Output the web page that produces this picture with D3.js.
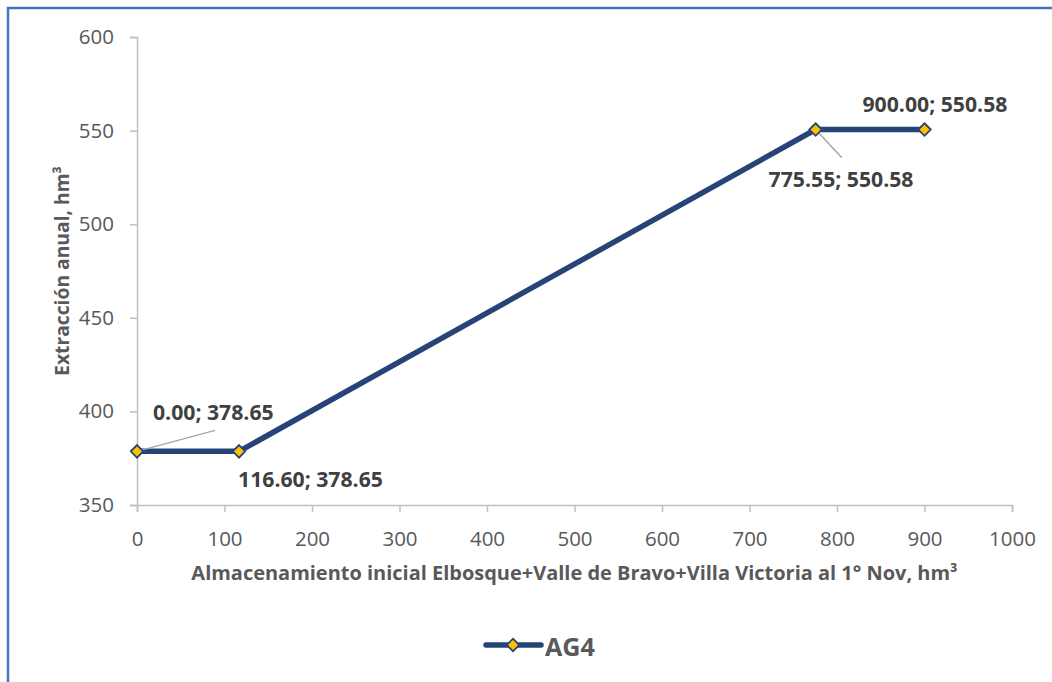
<!DOCTYPE html>
<html>
<head>
<meta charset="utf-8">
<script src="https://cdn.jsdelivr.net/npm/d3@7"></script>
<style>
  html, body { margin: 0; padding: 0; background: #fff; }
  svg { display: block; }
  text { font-family: "Open Sans", Carlito, Calibri, sans-serif; }
</style>
</head>
<body>
<svg id="chart" width="1052" height="682"></svg>
<script>
// Series AG4: initial storage (hm³) vs annual extraction (hm³)
const storage = [0.00, 116.60, 775.55, 900.00];
const extraction = [378.65, 378.65, 550.58, 550.58];
const seriesName = "AG4";

const xTicks = [0, 100, 200, 300, 400, 500, 600, 700, 800, 900, 1000];
const yTicks = [350, 400, 450, 500, 550, 600];

const xTitle = "Almacenamiento inicial Elbosque+Valle de Bravo+Villa Victoria al 1° Nov, hm³";
const yTitle = "Extracción anual, hm³";

// label placement relative to each point (dx, dy, leader line end)
const labelPos = [
  { dx: 16, dy: -31, leader: [78, -21] },
  { dx: -1, dy: 36, leader: null },
  { dx: -47, dy: 57, leader: [26, 28] },
  { dx: -62, dy: -18, leader: null }
];

const svg = d3.select("#chart");
const W = 1052, H = 682;

// shrink or grow a text's font so it spans the given width
function fitWidth(sel, width) {
  sel.each(function () {
    const t = d3.select(this);
    const w = this.getComputedTextLength();
    if (w > 0) t.attr("font-size", (+t.attr("font-size")) * width / w);
  });
}

// chart frame
svg.append("path")
  .attr("d", `M8,${H} L8,8 L${W},8`)
  .attr("fill", "none")
  .attr("stroke", "#4472C4")
  .attr("stroke-width", 2.5);

const x = d3.scaleLinear().domain([0, 1000]).range([137, 1012]);
const y = d3.scaleLinear().domain([350, 600]).range([505, 37]);

const axisColor = "#BFBFBF";
const tickColor = "#595959";

// x axis
const gx = svg.append("g").attr("transform", `translate(0,${y(350)})`)
  .call(d3.axisBottom(x).tickValues(xTicks).tickSize(7).tickSizeOuter(7).tickPadding(19).tickFormat(d3.format("d")));
// y axis
const gy = svg.append("g").attr("transform", `translate(${x(0)},0)`)
  .call(d3.axisLeft(y).tickValues(yTicks).tickSize(7).tickSizeOuter(7).tickPadding(16).tickFormat(d3.format("d")));

[gx, gy].forEach(g => {
  g.select(".domain").attr("stroke", axisColor).attr("stroke-width", 1.5);
  g.selectAll(".tick line").attr("stroke", axisColor).attr("stroke-width", 1.5);
  g.selectAll(".tick text").attr("fill", tickColor).attr("font-size", 20.5)
    .attr("font-family", "'Open Sans', Carlito, Calibri, sans-serif");
});

// axis titles
svg.append("text")
  .attr("x", (x(0) + x(1000)) / 2)
  .attr("y", 580)
  .attr("text-anchor", "middle")
  .attr("font-weight", "bold")
  .attr("font-size", 17)
  .attr("fill", tickColor)
  .text(xTitle)
  .call(fitWidth, 767);

svg.append("text")
  .attr("transform", `translate(69,${(y(350) + y(600)) / 2}) rotate(-90)`)
  .attr("text-anchor", "middle")
  .attr("font-weight", "bold")
  .attr("font-size", 17)
  .attr("fill", tickColor)
  .text(yTitle)
  .call(fitWidth, 210);

const pts = storage.map((s, i) => ({ s, e: extraction[i] }));

// series line
svg.append("path")
  .datum(pts)
  .attr("fill", "none")
  .attr("stroke", "#264478")
  .attr("stroke-width", 5.5)
  .attr("stroke-linejoin", "round")
  .attr("d", d3.line().x(d => x(d.s)).y(d => y(d.e)));

const diamond = d3.symbol().type(d3.symbolDiamond2).size(100);

// leader lines
pts.forEach((d, i) => {
  const lp = labelPos[i];
  if (lp.leader) {
    svg.append("line")
      .attr("x1", x(d.s)).attr("y1", y(d.e))
      .attr("x2", x(d.s) + lp.leader[0]).attr("y2", y(d.e) + lp.leader[1])
      .attr("stroke", "#A6A6A6").attr("stroke-width", 1.5);
  }
});

// markers
svg.selectAll(".marker").data(pts).enter().append("path")
  .attr("class", "marker")
  .attr("transform", d => `translate(${x(d.s)},${y(d.e)})`)
  .attr("d", diamond)
  .attr("fill", "#FFC000")
  .attr("stroke", "#264478")
  .attr("stroke-width", 1.8);

// data labels
const fmt = d3.format(".2f");
const labels = svg.selectAll(".dlabel").data(pts).enter().append("text")
  .attr("class", "dlabel")
  .attr("x", (d, i) => x(d.s) + labelPos[i].dx)
  .attr("y", (d, i) => y(d.e) + labelPos[i].dy)
  .attr("font-weight", "bold")
  .attr("font-size", 20)
  .attr("fill", "#404040")
  .text(d => `${fmt(d.s)}; ${fmt(d.e)}`);
// size all labels alike from the longest one
const ref = labels.filter((d, i) => i === 1).node();
const labelSize = 20 * 145 / ref.getComputedTextLength();
labels.attr("font-size", labelSize);

// legend
const lg = svg.append("g").attr("transform", "translate(486,645)");
lg.append("line").attr("x1", 0).attr("x2", 55).attr("y1", 0).attr("y2", 0)
  .attr("stroke", "#264478").attr("stroke-width", 5.5).attr("stroke-linecap", "round");
lg.append("path").attr("transform", "translate(27,0)").attr("d", diamond)
  .attr("fill", "#FFC000").attr("stroke", "#264478").attr("stroke-width", 1.8);
lg.append("text").attr("x", 59).attr("y", 11)
  .attr("font-weight", "bold").attr("font-size", 22).attr("fill", tickColor)
  .text(seriesName)
  .call(fitWidth, 50);
</script>
</body>
</html>
